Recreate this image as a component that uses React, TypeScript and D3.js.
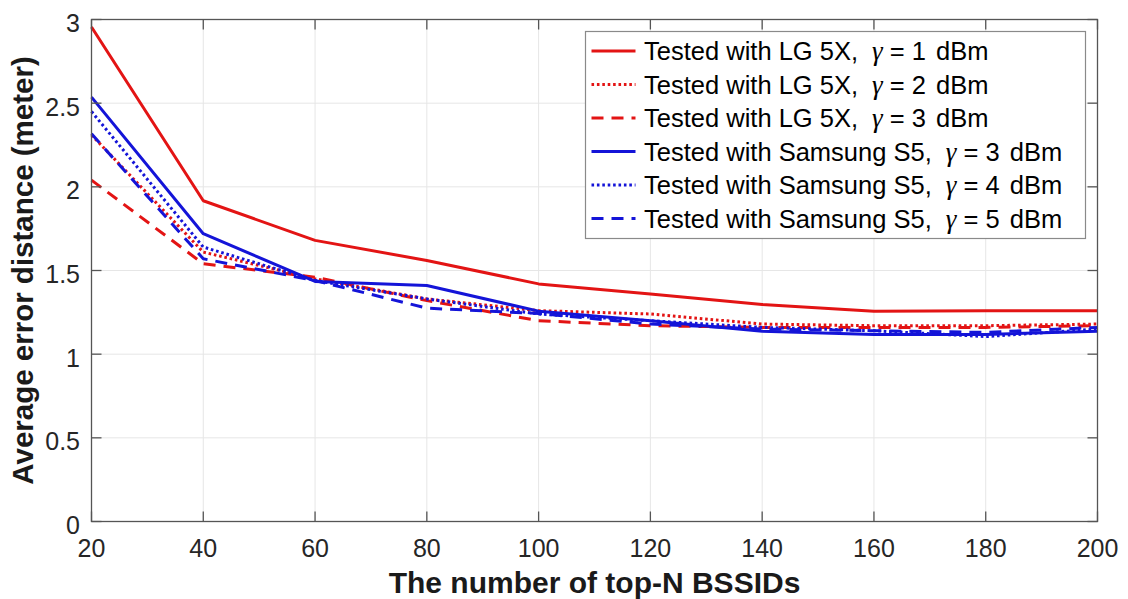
import React from "react";
import * as d3 from "d3";

const topN = [20, 40, 60, 80, 100, 120, 140, 160, 180, 200];
const lgGamma1 = [2.955, 1.917, 1.68, 1.56, 1.42, 1.36, 1.297, 1.257, 1.26, 1.26];
const lgGamma2 = [2.31, 1.61, 1.45, 1.33, 1.26, 1.24, 1.18, 1.17, 1.17, 1.18];
const lgGamma3 = [2.04, 1.54, 1.46, 1.32, 1.2, 1.17, 1.16, 1.16, 1.16, 1.17];
const s5Gamma3 = [2.536, 1.72, 1.435, 1.41, 1.257, 1.2, 1.137, 1.117, 1.118, 1.137];
const s5Gamma4 = [2.45, 1.64, 1.44, 1.33, 1.24, 1.2, 1.16, 1.14, 1.105, 1.15];
const s5Gamma5 = [2.317, 1.57, 1.44, 1.275, 1.243, 1.18, 1.15, 1.14, 1.13, 1.16];

const xTicks = [20, 40, 60, 80, 100, 120, 140, 160, 180, 200];
const yTicks = [0, 0.5, 1, 1.5, 2, 2.5, 3];
const yTickLabels = ["0", "0.5", "1", "1.5", "2", "2.5", "3"];

const legendPrefixes = [
  "Tested with LG 5X,",
  "Tested with LG 5X,",
  "Tested with LG 5X,",
  "Tested with Samsung S5,",
  "Tested with Samsung S5,",
  "Tested with Samsung S5,",
];
const legendGammas = ["1", "2", "3", "3", "4", "5"];

const RED = "#e31414";
const BLUE = "#1414d8";

const seriesValues = [lgGamma1, lgGamma2, lgGamma3, s5Gamma3, s5Gamma4, s5Gamma5];
const seriesColors = [RED, RED, RED, BLUE, BLUE, BLUE];
const seriesDash = [null, "2.6,2.8", "12,8", null, "2.6,2.8", "12,8"];

export default function App() {
  const W = 1128;
  const H = 599;
  const left = 91.5;
  const right = 1097.5;
  const top = 19.5;
  const bottom = 521.5;

  const x = d3.scaleLinear().domain([20, 200]).range([left, right]);
  const y = d3.scaleLinear().domain([0, 3]).range([bottom, top]);

  const line = d3
    .line<number>()
    .x((_, i) => x(topN[i]))
    .y((d) => y(d));

  const tickLen = 10;
  const tickFont = "'Liberation Sans', Arial, Helvetica, sans-serif";

  const legX = 585.5;
  const legY = 31.5;
  const legW = 500;
  const legH = 207;
  const rowY0 = 51;
  const rowStep = 33.5;

  return (
    <svg
      width={W}
      height={H}
      viewBox={`0 0 ${W} ${H}`}
      style={{ position: "absolute", left: 0, top: 0, display: "block", background: "#fff" }}
    >
      <rect x={0} y={0} width={W} height={H} fill="#fff" />
      {/* grid */}
      <g stroke="#e6e6e6" strokeWidth={1}>
        {xTicks.slice(1, -1).map((t) => (
          <line key={"gx" + t} x1={x(t)} x2={x(t)} y1={top} y2={bottom} />
        ))}
        {yTicks.slice(1, -1).map((t) => (
          <line key={"gy" + t} x1={left} x2={right} y1={y(t)} y2={y(t)} />
        ))}
      </g>
      {/* series */}
      <g fill="none" strokeWidth={3} strokeLinejoin="round">
        {seriesValues.map((vals, i) => (
          <path
            key={"s" + i}
            d={line(vals) || ""}
            stroke={seriesColors[i]}
            strokeDasharray={seriesDash[i] || undefined}
          />
        ))}
      </g>
      {/* axes box and ticks */}
      <g stroke="#555" strokeWidth={1.3} fill="none">
        <rect x={left} y={top} width={right - left} height={bottom - top} />
        {xTicks.map((t) => (
          <g key={"tx" + t}>
            <line x1={x(t)} x2={x(t)} y1={bottom} y2={bottom - tickLen} />
            <line x1={x(t)} x2={x(t)} y1={top} y2={top + tickLen} />
          </g>
        ))}
        {yTicks.map((t) => (
          <g key={"ty" + t}>
            <line x1={left} x2={left + tickLen} y1={y(t)} y2={y(t)} />
            <line x1={right} x2={right - tickLen} y1={y(t)} y2={y(t)} />
          </g>
        ))}
      </g>
      {/* tick labels */}
      <g fontFamily={tickFont} fontSize={25} fill="#262626">
        {xTicks.map((t) => (
          <text key={"lx" + t} x={x(t)} y={557} textAnchor="middle">
            {String(t)}
          </text>
        ))}
        {yTicks.map((t, i) => (
          <text key={"ly" + t} x={80} y={y(t) + 12.5} textAnchor="end">
            {yTickLabels[i]}
          </text>
        ))}
      </g>
      {/* axis titles */}
      <text
        x={(left + right) / 2}
        y={593}
        textAnchor="middle"
        fontFamily={tickFont}
        fontWeight="bold"
        fontSize={30}
        fill="#1a1a1a"
      >
        The number of top-N BSSIDs
      </text>
      <text
        transform={`translate(33, ${(top + bottom) / 2}) rotate(-90)`}
        textAnchor="middle"
        fontFamily={tickFont}
        fontWeight="bold"
        fontSize={29.5}
        fill="#1a1a1a"
      >
        Average error distance (meter)
      </text>
      {/* legend */}
      <rect x={legX} y={legY} width={legW} height={legH} fill="#fff" stroke="#8a8a8a" strokeWidth={1.2} />
      {legendPrefixes.map((p, i) => {
        const cy = rowY0 + i * rowStep;
        return (
          <g key={"lg" + i}>
            <line
              x1={591.5}
              x2={635.5}
              y1={cy}
              y2={cy}
              stroke={seriesColors[i]}
              strokeWidth={3}
              strokeDasharray={seriesDash[i] || undefined}
            />
            <text x={644} y={cy + 9} fontFamily={tickFont} fontSize={25.5} fill="#000">
              {p}
              <tspan dx={14} fontFamily="'Liberation Serif', 'Times New Roman', serif" fontStyle="italic" fontSize={27}>
                γ
              </tspan>
              <tspan>{" = " + legendGammas[i]}</tspan>
              <tspan dx={3}>{" dBm"}</tspan>
            </text>
          </g>
        );
      })}
    </svg>
  );
}
